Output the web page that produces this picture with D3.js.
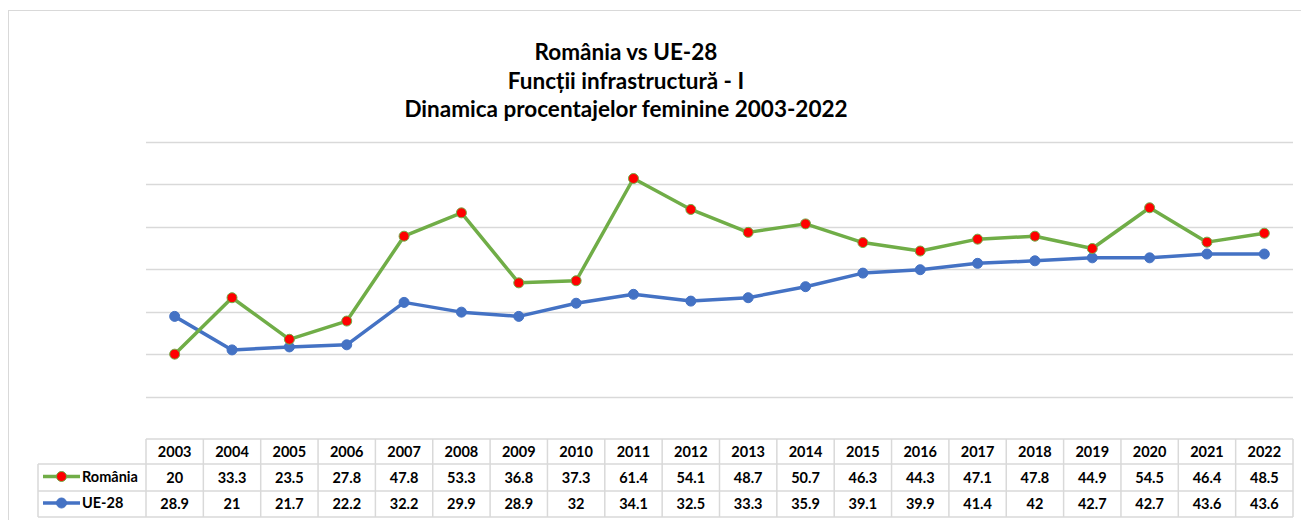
<!DOCTYPE html>
<html>
<head>
<meta charset="utf-8">
<script src="https://cdn.jsdelivr.net/npm/d3@7"></script>
<style>
  body { margin: 0; background: #fff; }
  text { font-family: Lato, "Open Sans", sans-serif; font-weight: bold; fill: #000; }
</style>
</head>
<body>
<svg width="1301" height="520"></svg>
<script>
// data
const years = ["2003","2004","2005","2006","2007","2008","2009","2010","2011","2012",
               "2013","2014","2015","2016","2017","2018","2019","2020","2021","2022"];
const romania = [20, 33.3, 23.5, 27.8, 47.8, 53.3, 36.8, 37.3, 61.4, 54.1,
                 48.7, 50.7, 46.3, 44.3, 47.1, 47.8, 44.9, 54.5, 46.4, 48.5];
const ue28 = [28.9, 21, 21.7, 22.2, 32.2, 29.9, 28.9, 32, 34.1, 32.5,
              33.3, 35.9, 39.1, 39.9, 41.4, 42, 42.7, 42.7, 43.6, 43.6];
const titleLines = ["România vs UE-28", "Funcții infrastructură - I", "Dinamica procentajelor feminine 2003-2022"];
const yTicks = [0, 10, 20, 30, 40, 50, 60, 70];

const svg = d3.select("svg");
const gridColor = "#d9d9d9";

// chart frame
svg.append("rect")
  .attr("x", 8.5).attr("y", 10.5)
  .attr("width", 1300).attr("height", 520)
  .attr("fill", "none").attr("stroke", gridColor);

// title
svg.append("g").selectAll("text")
  .data(titleLines)
  .join("text")
  .attr("x", 626)
  .attr("y", (d, i) => 60 + i * 28.5)
  .attr("text-anchor", "middle")
  .style("font-size", "22.5px")
  .text(d => d);

// scales
const x = d3.scaleBand().domain(years).range([146, 1293]);
const y = d3.scaleLinear().domain([0, 70]).range([439, 142]);

// gridlines
svg.append("g").selectAll("line")
  .data(yTicks.slice(1))
  .join("line")
  .attr("x1", 146).attr("x2", 1293)
  .attr("y1", d => Math.round(y(d)) + 0.5)
  .attr("y2", d => Math.round(y(d)) + 0.5)
  .attr("stroke", gridColor).attr("stroke-width", 1.5);

const series = [
  { name: "România", values: romania, line: "#70ad47", dot: "#ff0000" },
  { name: "UE-28", values: ue28, line: "#4472c4", dot: "#4472c4" }
];

const cx = d => x(d) + x.bandwidth() / 2;
const line = d3.line().x((d, i) => cx(years[i])).y(d => y(d));

// draw blue first, green on top
[series[1], series[0]].forEach(s => {
  svg.append("path")
    .datum(s.values)
    .attr("d", line)
    .attr("fill", "none")
    .attr("stroke", s.line)
    .attr("stroke-width", 3.5)
    .attr("stroke-linejoin", "round");
  svg.append("g").selectAll("circle")
    .data(s.values)
    .join("circle")
    .attr("cx", (d, i) => cx(years[i]))
    .attr("cy", d => y(d))
    .attr("r", 5)
    .attr("fill", s.dot)
    .attr("stroke", s.line)
    .attr("stroke-width", 1);
});

// data table
const rowTop = [439, 464, 491, 517];
const table = svg.append("g");
const fs = "14.5px";

// header cells
table.selectAll(".hdr")
  .data(years)
  .join("text")
  .attr("class", "hdr")
  .attr("x", d => cx(d))
  .attr("y", (rowTop[0] + rowTop[1]) / 2 + 5)
  .attr("text-anchor", "middle")
  .style("font-size", fs)
  .text(d => d);

series.forEach((s, r) => {
  const midY = (rowTop[r + 1] + rowTop[r + 2]) / 2;
  table.append("g").selectAll("text")
    .data(s.values)
    .join("text")
    .attr("x", (d, i) => cx(years[i]))
    .attr("y", midY + 5)
    .attr("text-anchor", "middle")
    .style("font-size", fs)
    .text(d => d);

  // legend key
  table.append("line")
    .attr("x1", 43).attr("x2", 80)
    .attr("y1", midY - 1).attr("y2", midY - 1)
    .attr("stroke", s.line).attr("stroke-width", 3.5);
  table.append("circle")
    .attr("cx", 61.5).attr("cy", midY - 1).attr("r", 5)
    .attr("fill", s.dot).attr("stroke", s.line).attr("stroke-width", 1);
  table.append("text")
    .attr("x", 82).attr("y", midY + 4)
    .style("font-size", fs)
    .text(s.name);
});

// table grid lines
const tb = table.append("g").attr("stroke", gridColor).attr("stroke-width", 1.5);
tb.append("line").attr("x1", 146).attr("x2", 1293).attr("y1", rowTop[0]).attr("y2", rowTop[0]);
[1, 2, 3].forEach(k => {
  tb.append("line").attr("x1", 38).attr("x2", 1293).attr("y1", rowTop[k]).attr("y2", rowTop[k]);
});
tb.selectAll(".v")
  .data(years.concat(["end"]))
  .join("line")
  .attr("x1", (d, i) => 146 + i * x.bandwidth())
  .attr("x2", (d, i) => 146 + i * x.bandwidth())
  .attr("y1", rowTop[0]).attr("y2", rowTop[3]);
tb.append("line").attr("x1", 38).attr("x2", 38).attr("y1", rowTop[1]).attr("y2", rowTop[3]);
</script>
</body>
</html>
